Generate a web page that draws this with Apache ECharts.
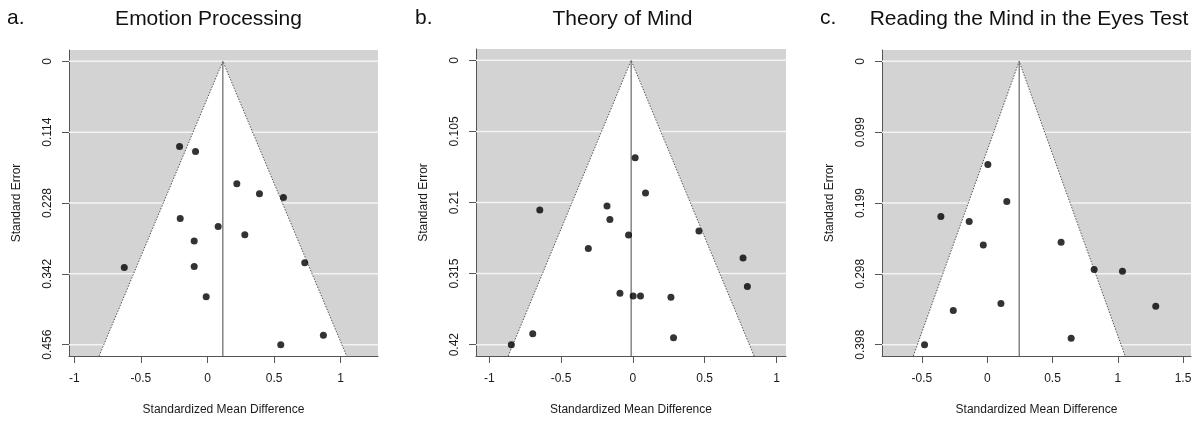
<!DOCTYPE html>
<html>
<head>
<meta charset="utf-8">
<script src="https://cdn.jsdelivr.net/npm/echarts@6/dist/echarts.min.js"></script>
<style>html,body{margin:0;padding:0;background:#fff}#c{width:1202px;height:421px}</style>
</head>
<body>
<div id="c"></div>
<script>
// ---- data ----
const panelLetters = ['a.', 'b.', 'c.'];
const panelTitles = ['Emotion Processing', 'Theory of Mind', 'Reading the Mind in the Eyes Test'];
const xAxisName = 'Standardized Mean Difference';
const yAxisName = 'Standard Error';

const smdA = [-0.21, -0.09, 0.22, 0.39, 0.57, -0.205, 0.08, 0.28, -0.10, 0.73, -0.625, -0.10, -0.01, 0.87, 0.55];
const seA  = [0.137, 0.145, 0.197, 0.213, 0.219, 0.253, 0.266, 0.279, 0.289, 0.324, 0.332, 0.330, 0.379, 0.441, 0.456];

const smdB = [0.016, 0.088, -0.18, -0.648, -0.16, 0.46, -0.03, -0.31, 0.767, 0.797, -0.09, 0.002, 0.053, 0.265, -0.697, 0.283, -0.846];
const seB  = [0.144, 0.196, 0.215, 0.221, 0.235, 0.252, 0.258, 0.278, 0.292, 0.334, 0.344, 0.348, 0.348, 0.350, 0.404, 0.410, 0.420];

const smdC = [0.005, 0.15, -0.355, -0.138, 0.566, -0.03, 0.819, 1.036, 0.105, -0.26, 1.291, 0.643, -0.48];
const seC  = [0.145, 0.197, 0.218, 0.225, 0.254, 0.258, 0.2925, 0.295, 0.340, 0.350, 0.344, 0.389, 0.398];

const centerEst = [0.115, -0.012, 0.245];

const xTicksA = [-1, -0.5, 0, 0.5, 1];
const xTicksB = [-1, -0.5, 0, 0.5, 1];
const xTicksC = [-0.5, 0, 0.5, 1, 1.5];

const yTicksA = [0, 0.114, 0.228, 0.342, 0.456];
const yTicksB = [0, 0.105, 0.21, 0.315, 0.42];
const yTicksC = [0, 0.0995, 0.199, 0.2985, 0.398];
const yTickLabelsA = ['0', '0.114', '0.228', '0.342', '0.456'];
const yTickLabelsB = ['0', '0.105', '0.21', '0.315', '0.42'];
const yTickLabelsC = ['0', '0.099', '0.199', '0.298', '0.398'];

const xRanges = [[-1.04, 1.28], [-1.092, 1.066], [-0.806, 1.561]];

// ---- build ----
const FONT = '"Liberation Sans", Arial, Helvetica, sans-serif';
const panels = [
  {smd: smdA, se: seA, xt: xTicksA, yt: yTicksA, yl: yTickLabelsA},
  {smd: smdB, se: seB, xt: xTicksB, yt: yTicksB, yl: yTickLabelsB},
  {smd: smdC, se: seC, xt: xTicksC, yt: yTicksC, yl: yTickLabelsC}
];
const grids = [
  {left: 69, top: 50, width: 309, height: 309},
  {left: 476, top: 49, width: 310, height: 310},
  {left: 882, top: 50, width: 309, height: 309}
];

const option = {
  animation: false,
  backgroundColor: '#fff',
  textStyle: {fontFamily: FONT},
  grid: [], xAxis: [], yAxis: [], series: [],
  graphic: []
};

const titleCenters = [208.5, 622.5, 1029];
const letterLeft = [7, 415, 820];

panels.forEach((p, i) => {
  const maxSE = p.yt[p.yt.length - 1];
  const yMin = -0.04 * maxSE, yMax = 1.04 * maxSE;
  const [xMin, xMax] = xRanges[i];
  const c = centerEst[i];
  const half = 1.96 * yMax;
  option.grid.push(Object.assign({show: true, backgroundColor: '#d3d3d3', borderWidth: 0}, grids[i]));
  option.xAxis.push({
    type: 'value', gridIndex: i, min: xMin, max: xMax,
    name: xAxisName, nameLocation: 'middle', nameGap: 48,
    nameTextStyle: {fontSize: 12, color: '#1a1a1a', fontFamily: FONT},
    axisLine: {show: true, onZero: false, lineStyle: {color: '#555', width: 1}},
    axisTick: {show: true, length: 7, lineStyle: {color: '#555'}, customValues: p.xt},
    axisLabel: {customValues: p.xt, margin: 17, fontSize: 12, color: '#1a1a1a', fontFamily: FONT,
      formatter: v => String(Math.round(v * 10) / 10)},
    splitLine: {show: false}
  });
  option.yAxis.push({
    type: 'value', gridIndex: i, min: yMin, max: yMax, inverse: true,
    name: yAxisName, nameLocation: 'middle', nameGap: 46,
    nameTextStyle: {fontSize: 12, color: '#1a1a1a', fontFamily: FONT},
    axisLine: {show: true, onZero: false, lineStyle: {color: '#555', width: 1}},
    axisTick: {show: true, length: 7, lineStyle: {color: '#555'}, customValues: p.yt},
    axisLabel: {customValues: p.yt, rotate: 90, margin: 15, fontSize: 12, color: '#1a1a1a', fontFamily: FONT,
      formatter: v => {
        let best = 0, bd = Infinity;
        p.yt.forEach((t, k) => { const d = Math.abs(t - v); if (d < bd) { bd = d; best = k; } });
        return p.yl[best];
      }},
    splitLine: {show: false}
  });
  // background: white gridlines then white funnel region
  option.series.push({
    type: 'custom', xAxisIndex: i, yAxisIndex: i, silent: true, z: 1,
    data: [[c, 0]],
    renderItem: (params, api) => {
      const children = [];
      p.yt.forEach(t => {
        const a = api.coord([xMin, t]), b = api.coord([xMax, t]);
        children.push({type: 'line', shape: {x1: a[0], y1: a[1], x2: b[0], y2: b[1]},
          style: {stroke: '#f4f4f4', lineWidth: 1.5}});
      });
      const p0 = api.coord([c, 0]), p1 = api.coord([c - half, yMax]), p2 = api.coord([c + half, yMax]);
      children.push({type: 'polygon', shape: {points: [p0, p1, p2]}, style: {fill: '#fff'}});
      return {type: 'group', children};
    }
  });
  // dotted funnel edges
  option.series.push({
    type: 'line', xAxisIndex: i, yAxisIndex: i, silent: true, z: 2, symbol: 'none',
    data: [[c - half, yMax], [c, 0], [c + half, yMax]],
    lineStyle: {color: '#555', width: 1, type: [1.5, 1.5]}
  });
  // vertical reference line
  option.series.push({
    type: 'line', xAxisIndex: i, yAxisIndex: i, silent: true, z: 2, symbol: 'none',
    data: [[c, 0], [c, yMax]],
    lineStyle: {color: '#666', width: 1.2}
  });
  // study points
  option.series.push({
    type: 'scatter', xAxisIndex: i, yAxisIndex: i, z: 3,
    symbol: 'circle', symbolSize: 7,
    itemStyle: {color: '#000'},
    data: p.smd.map((x, k) => [x, p.se[k]])
  });
  option.graphic.push({
    type: 'text', left: letterLeft[i], top: 8,
    style: {text: panelLetters[i], font: '21px ' + FONT, fill: '#111'}
  });
  option.graphic.push({
    type: 'text', x: titleCenters[i], y: 19,
    style: {text: panelTitles[i], font: '21px ' + FONT, fill: '#111', align: 'center', verticalAlign: 'middle'}
  });
});

const chart = echarts.init(document.getElementById('c'), null, {renderer: 'canvas'});
chart.setOption(option);
</script>
</body>
</html>
